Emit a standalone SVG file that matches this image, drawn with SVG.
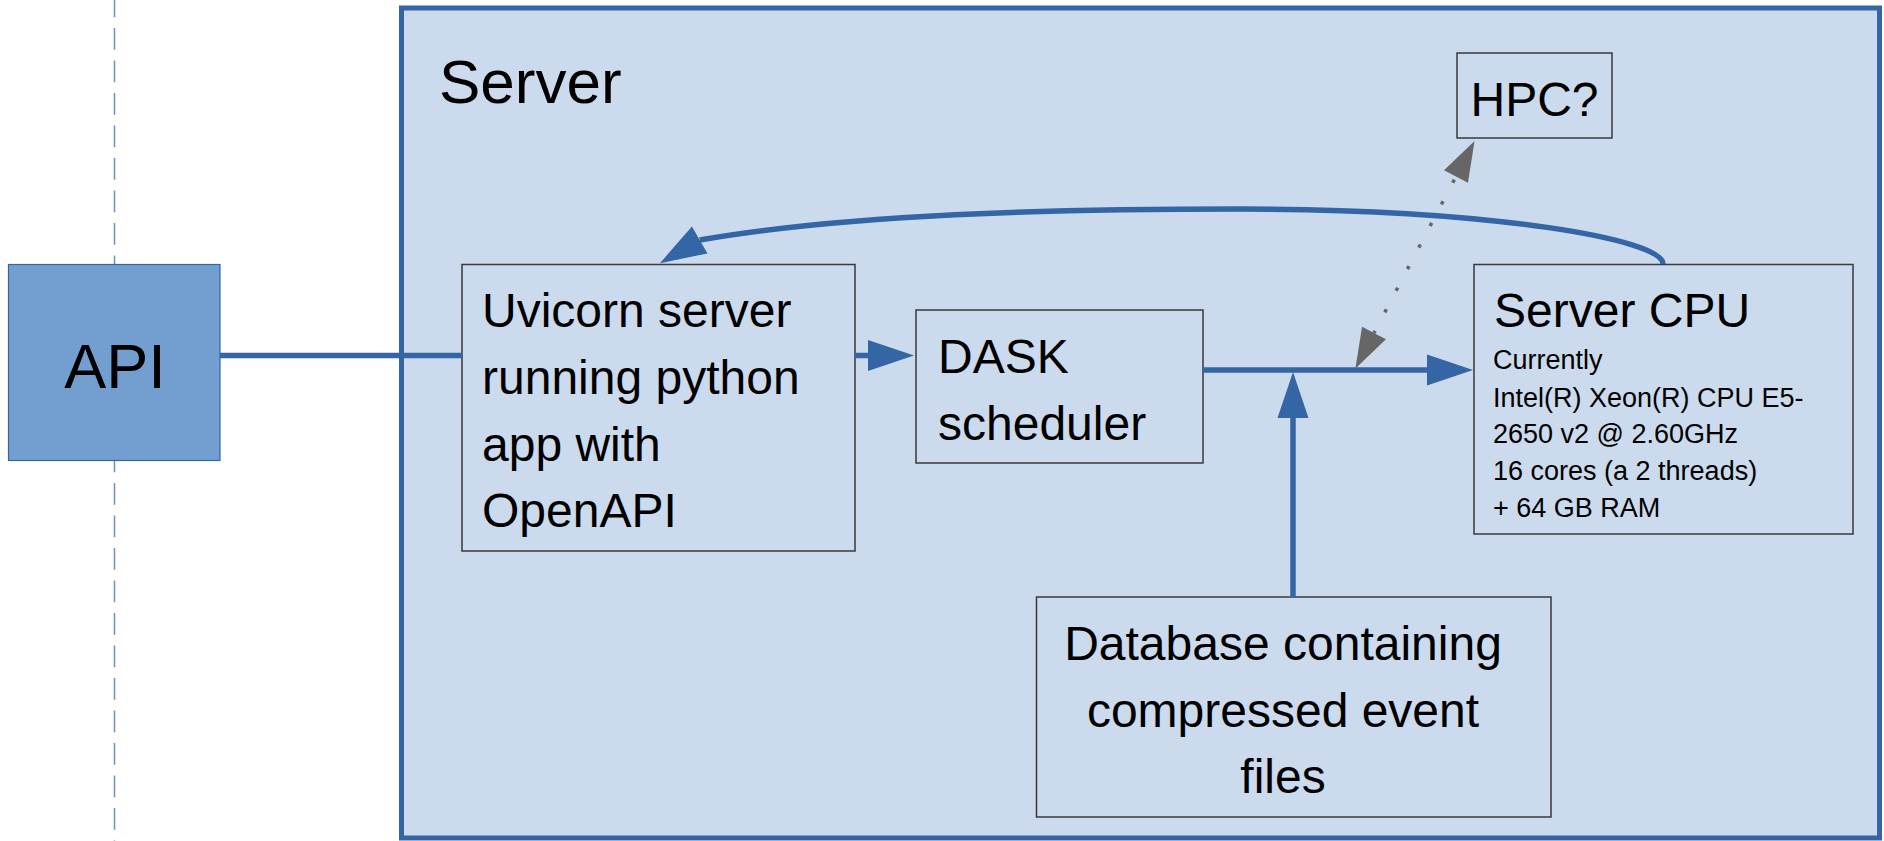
<svg xmlns="http://www.w3.org/2000/svg" width="1884" height="841" viewBox="0 0 1884 841">
  <style>
    text { font-family: "Liberation Sans", Arial, sans-serif; fill: #000; }
    .big { font-size: 48px; }
    .small { font-size: 27px; }
    .box { fill: none; stroke: #3a3a3a; stroke-width: 1.5; }
    .conn { fill: none; stroke: #3465a4; stroke-width: 5.5; }
    .dots { fill: none; stroke: #666666; stroke-width: 3.5; stroke-dasharray: 3.5 20.9; stroke-dashoffset: 1.15; }
  </style>
  <defs>
    <marker id="blueArrow" markerUnits="userSpaceOnUse" markerWidth="46" markerHeight="31" refX="0" refY="15.5" orient="auto" overflow="visible">
      <path d="M0,0 L46,15.5 L0,31 Z" fill="#3465a4"/>
    </marker>
    <marker id="blueArrowCurve" markerUnits="userSpaceOnUse" markerWidth="46" markerHeight="31" refX="0" refY="15.5" orient="149.8" overflow="visible">
      <path d="M0,0 L46,15.5 L0,31 Z" fill="#3465a4"/>
    </marker>
    <marker id="grayArrow" markerUnits="userSpaceOnUse" markerWidth="40" markerHeight="27" refX="0" refY="13.5" orient="auto-start-reverse" overflow="visible">
      <path d="M0,0 L40,13.5 L0,27 Z" fill="#666666"/>
    </marker>
  </defs>

  <rect x="0" y="0" width="1884" height="841" fill="#ffffff"/>

  <!-- boundary dashed line -->
  <line x1="114.5" y1="0" x2="114.5" y2="841" stroke="#7394c4" stroke-width="1.6" stroke-dasharray="21.7 10.8" stroke-dashoffset="4.5"/>

  <g id="server">
    <rect x="401.5" y="8" width="1478" height="830" fill="#cbdaec" stroke="#3465a4" stroke-width="5"/>
    <text x="439" y="103" style="font-size:62px">Server</text>
  </g>

  <g id="api">
    <rect x="8.5" y="264.5" width="211.5" height="196" fill="#729fcf" stroke="#3465a4" stroke-width="1.2"/>
    <text x="115" y="388" text-anchor="middle" style="font-size:63px">API</text>
  </g>

  <g id="uvicorn">
    <rect class="box" x="462" y="264.5" width="393" height="286.5"/>
    <text class="big" x="482" y="327.3">Uvicorn server</text>
    <text class="big" x="482" y="394">running python</text>
    <text class="big" x="482" y="460.7">app with</text>
    <text class="big" x="482" y="527.3">OpenAPI</text>
  </g>

  <g id="dask">
    <rect class="box" x="916" y="310" width="287" height="153"/>
    <text class="big" x="938" y="373">DASK</text>
    <text class="big" x="938" y="439.7">scheduler</text>
  </g>

  <g id="server-cpu">
    <rect class="box" x="1474" y="264.5" width="379" height="269.5"/>
    <text class="big" x="1494" y="327">Server CPU</text>
    <text class="small" x="1493" y="369.3">Currently</text>
    <text class="small" x="1493" y="406.5">Intel(R) Xeon(R) CPU E5-</text>
    <text class="small" x="1493" y="443.3">2650 v2 @ 2.60GHz</text>
    <text class="small" x="1493" y="480.3">16 cores (a 2 threads)</text>
    <text class="small" x="1493" y="517.3">+ 64 GB RAM</text>
  </g>

  <g id="hpc">
    <rect class="box" x="1457" y="53" width="155" height="85"/>
    <text class="big" x="1534.5" y="116" text-anchor="middle">HPC?</text>
  </g>

  <g id="database">
    <rect class="box" x="1036.5" y="597" width="514.5" height="220"/>
    <text class="big" x="1283" y="660" text-anchor="middle">Database containing</text>
    <text class="big" x="1283" y="726.7" text-anchor="middle">compressed event</text>
    <text class="big" x="1283" y="793.3" text-anchor="middle">files</text>
  </g>

  <g id="connectors">
    <line class="conn" x1="220" y1="355.5" x2="462" y2="355.5"/>
    <line class="conn" x1="855" y1="355.5" x2="868" y2="355.5" marker-end="url(#blueArrow)"/>
    <line class="conn" x1="1203" y1="370" x2="1427" y2="370" marker-end="url(#blueArrow)"/>
    <line class="conn" x1="1293" y1="597" x2="1293" y2="418" marker-end="url(#blueArrow)"/>
    <path class="conn" d="M1663,264 C1663,239 1490,209 1240,209 C1050,209 850,214 699.7,240" marker-end="url(#blueArrowCurve)"/>
    <path class="dots" d="M1374,333 L1456,176.5" marker-start="url(#grayArrow)" marker-end="url(#grayArrow)"/>
  </g>
</svg>
